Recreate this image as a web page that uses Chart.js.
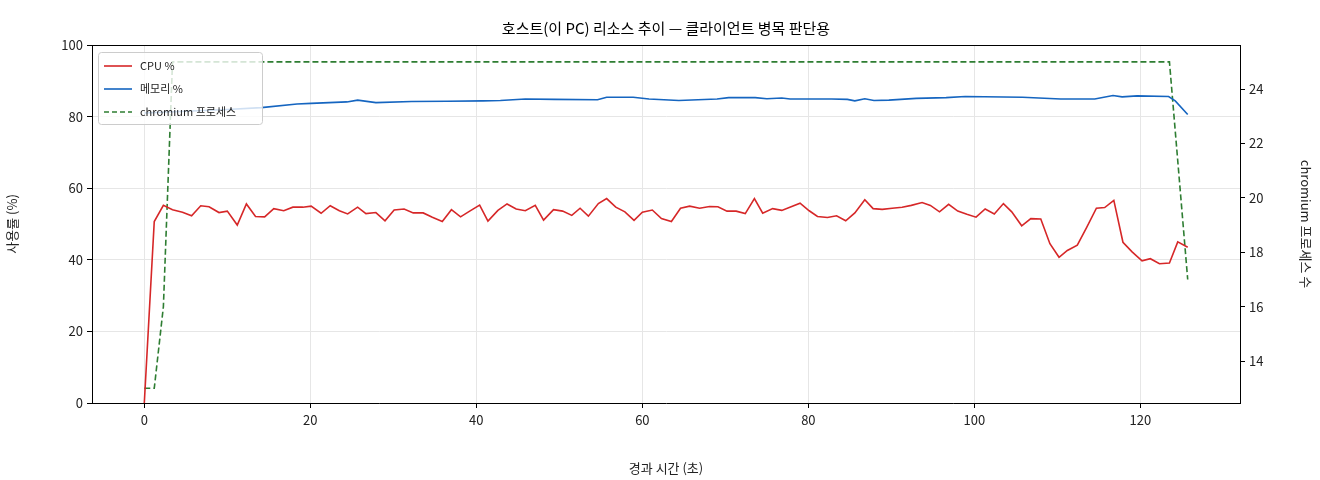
<!DOCTYPE html>
<html><head><meta charset="utf-8">
<script src="https://cdn.jsdelivr.net/npm/chart.js@4.4.1/dist/chart.umd.min.js"></script>
<style>html,body{margin:0;background:#fff}#c{display:block}</style>
</head><body>
<canvas id="c" width="1320" height="480" style="width:1320px;height:480px"></canvas>
<script>
// === Datos ===
const TITLE = "호스트(이 PC) 리소스 추이 — 클라이언트 병목 판단용";
const cpuTimes = [0,1.2,2.3,3.4,4.6,5.7,6.8,7.8,9.0,10.0,11.2,12.3,13.4,14.5,15.6,16.8,17.9,19.1,20.1,21.3,22.4,23.5,24.5,25.7,26.7,27.9,29.0,30.1,31.3,32.4,33.6,34.7,35.9,37.0,38.1,39.2,40.4,41.4,42.6,43.7,44.8,45.9,47.1,48.1,49.3,50.4,51.5,52.5,53.5,54.7,55.7,56.8,57.9,59.0,60.0,61.2,62.3,63.5,64.6,65.7,66.9,68.1,69.1,70.2,71.3,72.4,73.5,74.5,75.7,76.8,78.0,79.0,80.1,81.1,82.3,83.4,84.5,85.6,86.8,87.8,88.9,90.1,91.3,92.4,93.7,94.7,95.8,96.9,98.0,99.1,100.2,101.3,102.4,103.5,104.5,105.7,106.8,108.0,109.1,110.2,111.2,112.4,113.5,114.7,115.7,116.8,117.9,119.0,120.2,121.2,122.3,123.5,124.5,125.7];
const cpuValues = [0,50.7,55.2,54.0,53.3,52.3,55.1,54.8,53.2,53.6,49.7,55.6,52.1,52.0,54.3,53.7,54.7,54.7,55.0,53.0,55.1,53.7,52.8,54.7,52.9,53.2,50.9,53.9,54.2,53.1,53.1,51.9,50.7,54.0,52.0,53.6,55.3,50.8,53.8,55.6,54.2,53.7,55.2,51.1,54.0,53.6,52.4,54.4,52.2,55.7,57.1,54.7,53.4,51.0,53.3,53.9,51.5,50.7,54.4,55.0,54.4,54.9,54.8,53.6,53.6,52.9,57.1,53.0,54.3,53.8,54.9,55.8,53.7,52.1,51.8,52.3,50.9,53.1,56.8,54.3,54.1,54.4,54.7,55.2,56.0,55.2,53.4,55.5,53.6,52.7,51.9,54.2,52.8,55.7,53.4,49.5,51.5,51.4,44.5,40.7,42.6,44.1,48.9,54.4,54.6,56.6,44.9,42.2,39.7,40.3,38.9,39.1,45.0,43.5];
const memTimes = [0,5,10,14.1,18.4,20.1,24.4,25.7,27.9,32.2,36.5,40.8,42.9,45.9,49.4,54.6,55.7,58.9,60.8,64.4,69.0,70.4,73.6,75.0,76.8,77.8,82.8,84.7,85.6,86.8,87.9,89.7,93.0,96.6,98.9,105.8,110.4,114.5,116.7,117.8,119.6,123.4,124.2,125.7];
const memValues = [81.0,81.5,82.0,82.5,83.5,83.7,84.1,84.6,83.9,84.2,84.3,84.4,84.5,84.9,84.8,84.7,85.4,85.4,84.9,84.5,84.9,85.3,85.3,85.0,85.2,84.9,84.9,84.8,84.4,85.0,84.5,84.6,85.1,85.3,85.6,85.4,84.9,84.9,85.9,85.5,85.8,85.6,84.4,80.6];
const procTimes = [0,1.2,2.3,3.4,123.5,125.7];
const procValues = [13,13,16,25,25,17];
const xTicks = [0,20,40,60,80,100,120];
const yTicks = [0,20,40,60,80,100];
const y2Ticks = [14,16,18,20,22,24];
const LABELS = ["CPU %","메모리 %","chromium 프로세스"];
const COLORS = ["#d62728","#1565c0","#2e7d32"];

const FONT = "'Noto Sans CJK KR','Noto Sans',sans-serif";
const pts = (xs, ys) => xs.map((x, i) => ({x, y: ys[i]}));
const fixTicks = (arr) => (ax) => { ax.ticks = arr.map(v => ({value: v})); };

// Título y leyenda dibujados a mano (estilo matplotlib)
const overlay = {
  id: "overlay",
  afterDraw(chart) {
    const {ctx, chartArea: a} = chart;
    ctx.save();
    ctx.fillStyle = "#000"; ctx.font = "15px " + FONT;
    ctx.textAlign = "center"; ctx.textBaseline = "middle";
    ctx.fillText(TITLE, (a.left + a.right) / 2, 28);
    // leyenda
    const bx = a.left + 6, by = a.top + 7, bw = 164, bh = 72;
    ctx.fillStyle = "rgba(255,255,255,0.8)"; ctx.strokeStyle = "#ccc"; ctx.lineWidth = 1;
    ctx.beginPath(); ctx.roundRect(bx + 0.5, by + 0.5, bw, bh, 3); ctx.fill(); ctx.stroke();
    ctx.font = "11px " + FONT; ctx.textAlign = "left";
    LABELS.forEach((l, i) => {
      const yy = by + 14 + i * 23;
      ctx.strokeStyle = COLORS[i]; ctx.lineWidth = 1.6;
      ctx.setLineDash(i === 2 ? [5, 3] : []);
      ctx.beginPath(); ctx.moveTo(bx + 6, yy); ctx.lineTo(bx + 34, yy); ctx.stroke();
      ctx.setLineDash([]);
      ctx.fillStyle = "#222"; ctx.fillText(l, bx + 42, yy);
    });
    ctx.restore();
  }
};

const grid = {color: "#e6e6e6", tickColor: "#000", tickLength: 5};
new Chart(document.getElementById("c"), {
  type: "line",
  data: {datasets: [
    {label: LABELS[0], data: pts(cpuTimes, cpuValues), borderColor: COLORS[0], borderWidth: 1.6, yAxisID: "y"},
    {label: LABELS[1], data: pts(memTimes, memValues), borderColor: COLORS[1], borderWidth: 1.6, yAxisID: "y"},
    {label: LABELS[2], data: pts(procTimes, procValues), borderColor: COLORS[2], borderWidth: 1.6, borderDash: [6, 3], yAxisID: "y2"}
  ]},
  options: {
    responsive: false, animation: false, devicePixelRatio: 1,
    elements: {point: {radius: 0}, line: {tension: 0}},
    layout: {padding: {top: 45, left: 0, right: 0, bottom: 0}},
    plugins: {legend: {display: false}, tooltip: {enabled: false}},
    scales: {
      x: {type: "linear", min: -6.3, max: 132, afterBuildTicks: fixTicks(xTicks),
        afterFit: (s) => { s.height = 77; },
        grid, border: {color: "#000", width: 1},
        ticks: {color: "#222", font: {family: FONT, size: 13}, padding: 4},
        title: {display: true, text: "경과 시간 (초)", color: "#222", font: {family: FONT, size: 13}, padding: {top: 6}}},
      y: {position: "left", min: 0, max: 100, afterBuildTicks: fixTicks(yTicks),
        afterFit: (s) => { s.width = 92; },
        grid, border: {color: "#000", width: 1},
        ticks: {color: "#222", font: {family: FONT, size: 13}, padding: 4},
        title: {display: true, text: "사용률 (%)", color: "#222", font: {family: FONT, size: 13}, padding: {bottom: 6}}},
      y2: {position: "right", min: 12.46, max: 25.62, afterBuildTicks: fixTicks(y2Ticks),
        afterFit: (s) => { s.width = 80; },
        grid: {drawOnChartArea: false, tickColor: "#000", tickLength: 5}, border: {color: "#000", width: 1},
        ticks: {color: "#222", font: {family: FONT, size: 13}, padding: 4},
        title: {display: true, text: "chromium 프로세스 수", color: "#222", font: {family: FONT, size: 13}, padding: {top: 6}}}
    }
  },
  plugins: [overlay, {id: "topBorder", afterDraw(c) {
    const {ctx, chartArea: a} = c; ctx.save(); ctx.strokeStyle = "#000"; ctx.lineWidth = 1;
    ctx.beginPath(); ctx.moveTo(a.left, a.top + 0.5); ctx.lineTo(a.right, a.top + 0.5); ctx.stroke(); ctx.restore();
  }}]
});
</script>
</body></html>
